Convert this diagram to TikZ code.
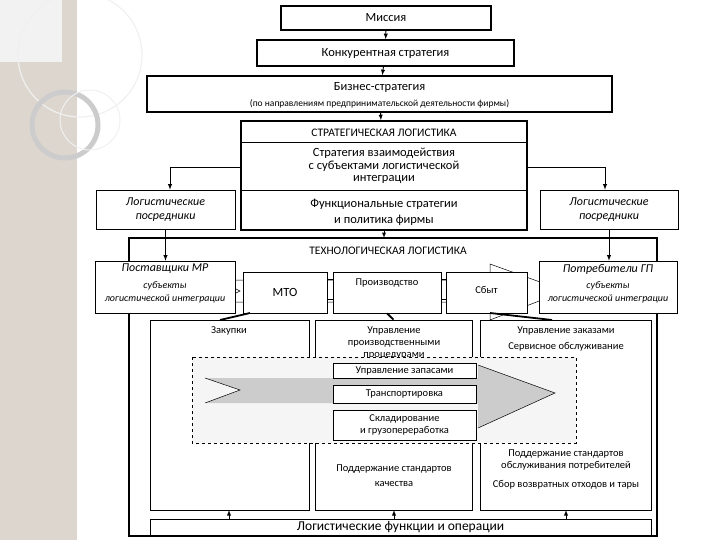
\documentclass[tikz,border=0pt]{standalone}
\usepackage{fontspec}
\setmainfont{Carlito}
\begin{document}
\begin{tikzpicture}[x=1pt,y=-1pt,
 bx/.style={draw,fill=white,line width=0.6pt,inner sep=0pt,align=center,font=\fontsize{12.5}{14}\selectfont},
 tk/.style={bx,line width=1.6pt},
 it/.style={font=\fontsize{12}{14}\selectfont\itshape},
 sm/.style={font=\fontsize{10.5}{12}\selectfont},
 arr/.style={-latex,line width=0.9pt}]
\useasboundingbox (0,0) rectangle (720,540);
% slide decoration
\fill[gray!25!white!90!brown] (0,0) rectangle (78,540);
\fill[white!60!gray!25] (0,0) rectangle (62,62);
\draw[white,line width=1.2pt] (78,0) -- (78,540);
\draw[white!60!gray!30,line width=1.2pt] (80,55) circle[radius=62];
\draw[gray!40,line width=5pt] (65,125) circle[radius=33];
\draw[white!60!gray!30,line width=1pt] (90,120) circle[radius=30];
% top chain
\node[tk,minimum width=210,minimum height=24] (mis) at (386,18) {Миссия};
\node[tk,minimum width=257,minimum height=26] (kon) at (385.5,53) {Конкурентная стратегия};
\node[tk,minimum width=465,minimum height=36] (biz) at (379.5,94) {};
\node at (379.5,87) [font=\fontsize{12.5}{14}\selectfont] {Бизнес-стратегия};
\node at (379.5,104) [font=\fontsize{9.5}{11}\selectfont] {(по направлениям предпринимательской деятельности фирмы)};
\draw[arr] (mis) -- (kon);
\draw[arr] (kon) -- (biz);
% strategic logistics
\node[tk,minimum width=286,minimum height=109] (sl) at (384,175.5) {};
\draw[line width=0.6pt] (241,142) -- (527,142) (241,190) -- (527,190);
\node at (384,133) [font=\fontsize{11.5}{13}\selectfont] {СТРАТЕГИЧЕСКАЯ ЛОГИСТИКА};
\node at (384,166) [align=center,font=\fontsize{12.5}{12.5}\selectfont] {Стратегия взаимодействия\\с субъектами логистической\\интеграции};
\node at (384,212) [align=center,font=\fontsize{12.5}{16}\selectfont] {Функциональные стратегии\\и политика фирмы};
\draw[arr] (biz) -- (sl);
\node[bx,minimum width=139,minimum height=39,it,align=center] (lpl) at (165.5,209.5) {Логистические\\посредники};
\node[bx,minimum width=138,minimum height=39,it,align=center] (lpr) at (609,209.5) {Логистические\\посредники};
\coordinate (cl) at (170,167); \coordinate (cr) at (605,167);
\draw[arr] (241,167) -- (cl) -- (lpl.north-|cl);
\draw[arr] (527,167) -- (cr) -- (lpr.north-|cr);
% technological logistics
\node[tk,fill=none,minimum width=528,minimum height=298] (tl) at (393,387) {};
\draw[arr] (sl.south) -- (384,238);
\node at (388,251) [font=\fontsize{11.5}{13}\selectfont] {ТЕХНОЛОГИЧЕСКАЯ ЛОГИСТИКА};
% big flow arrow behind
\draw[fill=white,line width=0.5pt] (218,280) -- (490,280) -- (490,264) -- (565,291) -- (490,320) -- (490,302) -- (218,302) -- (240,291) -- cycle;
\node[bx,minimum width=140,minimum height=52] (pos) at (165,287) {};
\node at (165,269) [it] {Поставщики МР};
\node at (165,292) [align=center,font=\fontsize{10}{13}\selectfont\itshape] {субъекты\\логистической интеграции};
\node[bx,minimum width=138,minimum height=52] (pot) at (608,287) {};
\node at (608,269) [it] {Потребители ГП};
\node at (608,292) [align=center,font=\fontsize{10}{13}\selectfont\itshape] {субъекты\\логистической интеграции};
\draw[line width=0.6pt] (327,279)--(333,279) (327,299)--(333,299) (441,279)--(446,279) (441,299)--(446,299);
\node[bx,minimum width=84,minimum height=41] (mto) at (285,292.5) {МТО};
\node[bx,minimum width=108,minimum height=41] (pro) at (387,292.5) {};
\node at (387,283) [sm] {Производство};
\node[bx,minimum width=81,minimum height=41] (sbt) at (486.5,292.5) {};
\node at (486.5,290) [sm] {Сбыт};
\draw[arr] (lpl) -- (pos.north-|lpl);
\draw[arr] (lpr) -- (pot.north-|lpr);
% lower boxes
\node[bx,minimum width=159,minimum height=190] (zak) at (229.5,415) {};
\node[bx,minimum width=157,minimum height=190] (upr) at (393.5,415) {};
\node[bx,minimum width=171,minimum height=190] (zkz) at (565.5,415) {};
\draw[line width=1.8pt] (250,313) -- (220,320);
\draw[line width=1.8pt] (pro.south) -- (upr.north);
\draw[line width=1.8pt] (490,313) -- (552,320);
\node at (229,331) [sm] {Закупки};
\node at (394,343) [align=center,font=\fontsize{10.5}{12}\selectfont] {Управление\\производственными\\процедурами};
\node at (566,331) [sm] {Управление заказами};
\node at (566,347) [sm] {Сервисное обслуживание};
\node at (394,476) [align=center,font=\fontsize{10.5}{15}\selectfont] {Поддержание стандартов\\качества};
\node at (566,460) [align=center,font=\fontsize{10.5}{12}\selectfont] {Поддержание стандартов\\обслуживания потребителей};
\node at (566,485) [sm] {Сбор возвратных отходов и тары};
% dashed region
\draw[dashed,fill=gray!8,line width=0.6pt] (192,357) rectangle (576,443);
\fill[gray!40] (205,378) -- (478,378) -- (478,365) -- (555,393) -- (478,428) -- (478,403) -- (205,403) -- (240,390) -- cycle;
\draw[line width=0.5pt] (205,378) -- (240,390) -- (205,403);
\draw[line width=0.5pt] (478,365) -- (555,393) -- (478,428);
\node[bx,minimum width=143,minimum height=15,sm] (zap) at (404.5,371) {Управление запасами};
\node[bx,minimum width=143,minimum height=18,sm] (trn) at (404.5,394) {Транспортировка};
\node[bx,minimum width=143,minimum height=30,sm,align=center,font=\fontsize{10.5}{12}\selectfont] (skl) at (404.5,425) {Складирование\\и грузопереработка};
% bottom
\node[bx,minimum width=501,minimum height=16,font=\fontsize{13.5}{14}\selectfont] (lf) at (400.5,527) {Логистические функции и операции};
\draw[arr] (229,519) -- (229,510);
\draw[arr] (394,519) -- (394,510);
\draw[arr] (566,519) -- (566,510);
\end{tikzpicture}
\end{document}
